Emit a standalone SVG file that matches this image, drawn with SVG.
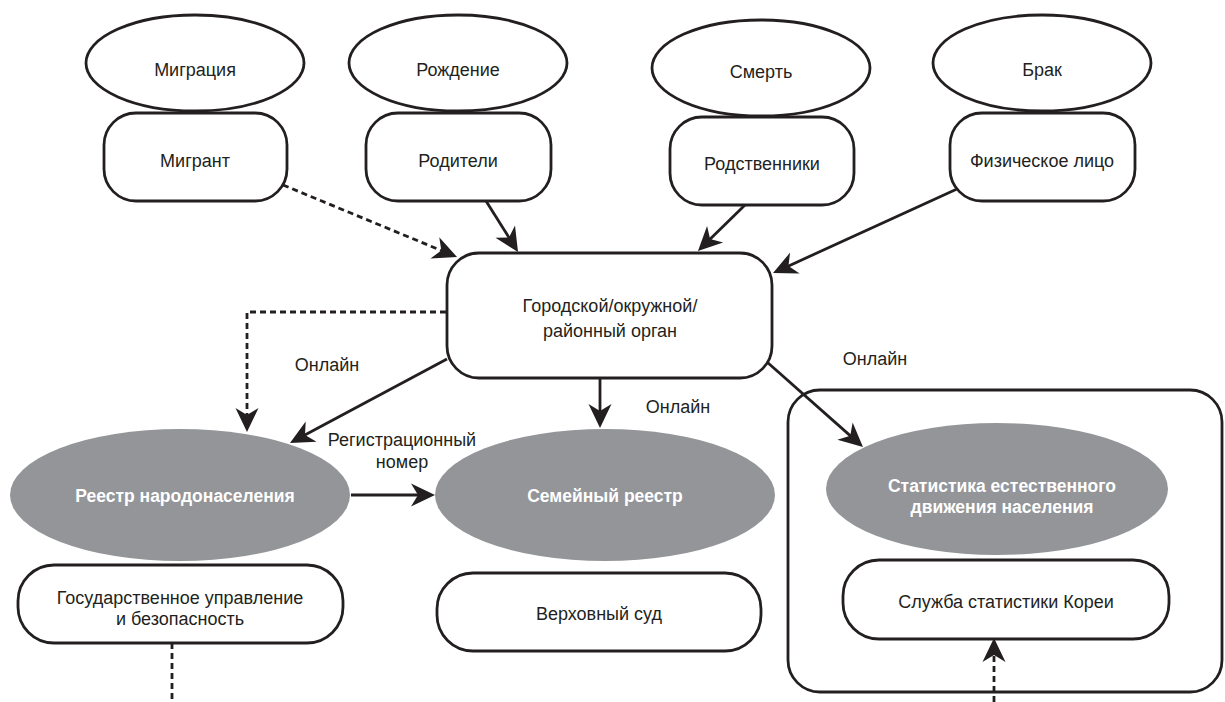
<svg xmlns="http://www.w3.org/2000/svg" width="1225" height="702" viewBox="0 0 1225 702">
<style>
.shape{fill:#fff;stroke:#231f20;stroke-width:2.8}
.gray{fill:#939598;stroke:none}
.t{font-family:"Liberation Sans",Arial,sans-serif;font-size:18px;fill:#231f20;text-anchor:middle}
.tb{font-family:"Liberation Sans",Arial,sans-serif;font-size:17.5px;font-weight:bold;fill:#fff;text-anchor:middle}
.ln{fill:none;stroke:#231f20;stroke-width:2.8}
.dash{stroke-dasharray:6 4}
</style>
<defs>
<marker id="ah" viewBox="-25 -13 26 26" refX="-10" refY="0" markerWidth="26" markerHeight="26" markerUnits="userSpaceOnUse" orient="auto">
<path d="M0,0 L-24,-11.5 L-17,0 L-24,11.5 Z" fill="#231f20"/>
</marker>
</defs>
<rect width="1225" height="702" fill="#fff"/>

<g id="container-stat">
<rect class="shape" x="788" y="390" width="434" height="302" rx="32"/>
</g>

<g id="migration"><ellipse class="shape" cx="195" cy="63" rx="109" ry="48"/><text class="t" x="195" y="76">Миграция</text></g>
<g id="birth"><ellipse class="shape" cx="458" cy="63" rx="109" ry="48"/><text class="t" x="458" y="76">Рождение</text></g>
<g id="death"><ellipse class="shape" cx="761" cy="68" rx="109" ry="48"/><text class="t" x="761" y="78">Смерть</text></g>
<g id="marriage"><ellipse class="shape" cx="1042" cy="63" rx="109" ry="48"/><text class="t" x="1042" y="76">Брак</text></g>

<g id="migrant"><rect class="shape" x="104" y="113" width="183" height="88" rx="32"/><text class="t" x="195" y="167">Мигрант</text></g>
<g id="parents"><rect class="shape" x="366" y="113" width="185" height="88" rx="32"/><text class="t" x="458" y="167">Родители</text></g>
<g id="relatives"><rect class="shape" x="670" y="117" width="184" height="88" rx="32"/><text class="t" x="762" y="170">Родственники</text></g>
<g id="person"><rect class="shape" x="950" y="113" width="185" height="88" rx="32"/><text class="t" x="1042" y="167">Физическое лицо</text></g>

<g id="local-office"><rect class="shape" x="447" y="253" width="325" height="125" rx="32"/><text class="t" x="610" y="312">Городской/окружной/</text><text class="t" x="610" y="337">районный орган</text></g>

<g id="population-register"><ellipse class="gray" cx="180" cy="495" rx="170" ry="66"/><text class="tb" x="185" y="502">Реестр народонаселения</text></g>
<g id="family-register"><ellipse class="gray" cx="605" cy="495" rx="170" ry="66"/><text class="tb" x="605" y="502">Семейный реестр</text></g>
<g id="vital-statistics"><ellipse class="gray" cx="997" cy="489" rx="171" ry="66"/><text class="tb" x="1002" y="492">Статистика естественного</text><text class="tb" x="1002" y="513">движения населения</text></g>

<g id="mois"><rect class="shape" x="18" y="565" width="325" height="78" rx="36"/><text class="t" x="180" y="604">Государственное управление</text><text class="t" x="180" y="625">и безопасность</text></g>
<g id="supreme-court"><rect class="shape" x="437" y="573" width="324" height="78" rx="36"/><text class="t" x="599" y="620">Верховный суд</text></g>
<g id="kostat"><rect class="shape" x="843" y="560" width="326" height="79" rx="36"/><text class="t" x="1006" y="608">Служба статистики Кореи</text></g>

<g id="connectors">
<path class="ln dash" d="M283,185 L447.8,253.2" marker-end="url(#ah)"/>
<path class="ln" d="M486,201 L512.7,243.5" marker-end="url(#ah)"/>
<path class="ln" d="M745,205 L705.1,244" marker-end="url(#ah)"/>
<path class="ln" d="M957,189 L782.1,268.9" marker-end="url(#ah)"/>
<path class="ln dash" d="M446,312 H247 V422" marker-end="url(#ah)"/>
<path class="ln" d="M447,359 L298.8,438.3" marker-end="url(#ah)"/>
<path class="ln" d="M600,378 V418" marker-end="url(#ah)"/>
<path class="ln" d="M767,362 L855.5,440.4" marker-end="url(#ah)"/>
<path class="ln" d="M351,495 H425" marker-end="url(#ah)"/>
<path class="ln dash" d="M172,643 V702"/>
<path class="ln dash" d="M994,702 V648" marker-end="url(#ah)"/>
<text class="t" x="327" y="371">Онлайн</text>
<text class="t" x="402" y="446">Регистрационный</text>
<text class="t" x="402" y="468">номер</text>
<text class="t" x="678" y="413">Онлайн</text>
<text class="t" x="875" y="365">Онлайн</text>
</g>
</svg>
